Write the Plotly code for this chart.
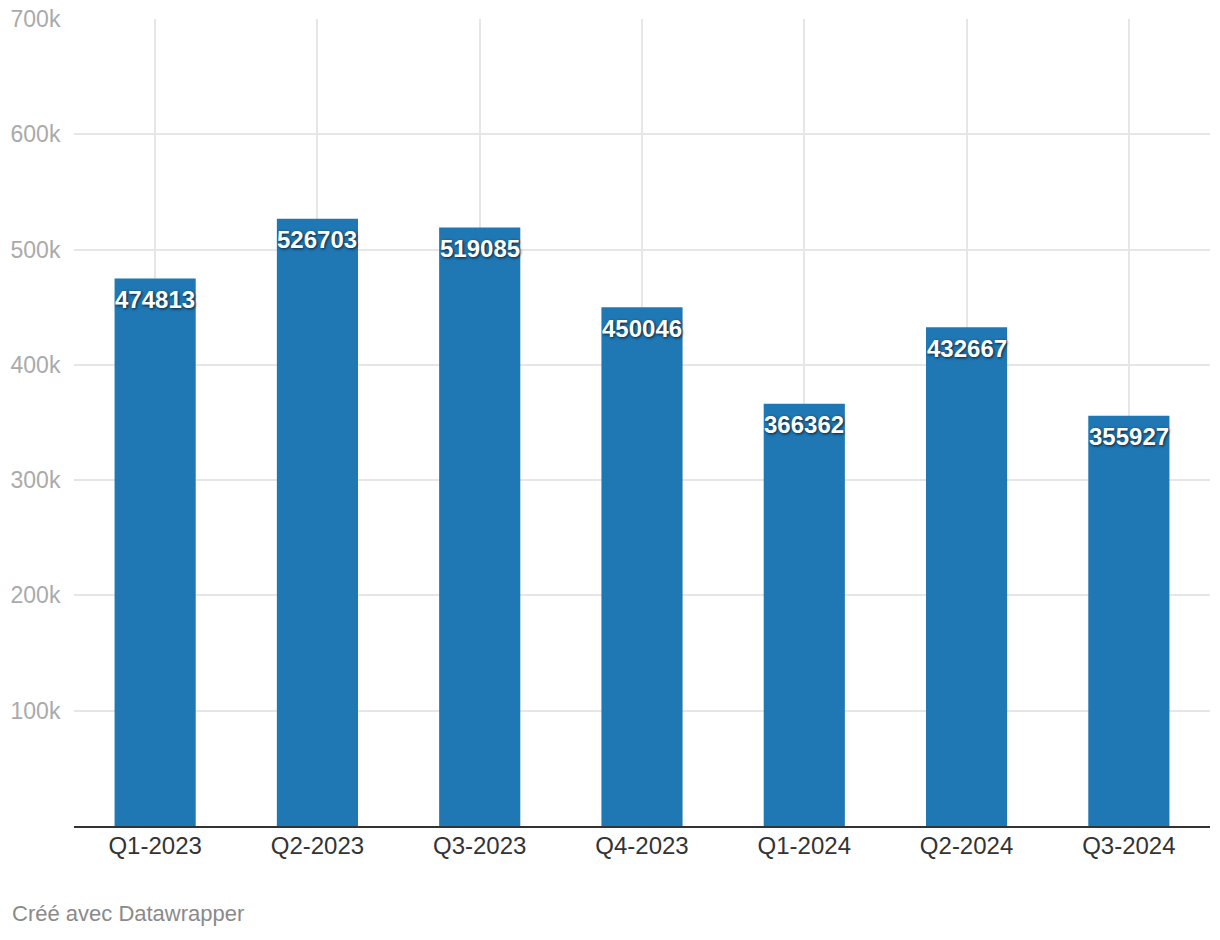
import plotly.graph_objects as go

categories = ["Q1-2023", "Q2-2023", "Q3-2023", "Q4-2023", "Q1-2024", "Q2-2024", "Q3-2024"]
values = [474813, 526703, 519085, 450046, 366362, 432667, 355927]
tick_vals = [100000, 200000, 300000, 400000, 500000, 600000, 700000]
tick_text = ["100k", "200k", "300k", "400k", "500k", "600k", "700k"]

FONT = "Liberation Sans, Arial, Helvetica, sans-serif"

fig = go.Figure()
fig.add_trace(go.Bar(
    x=categories,
    y=values,
    width=0.5,
    marker=dict(color="#1f77b4", line=dict(width=0)),
    hoverinfo="skip",
))

annotations = [dict(
    x=c, y=v, xref="x", yref="y",
    text=str(v), showarrow=False,
    xanchor="center", yanchor="middle", yshift=-21,
    font=dict(family=FONT, size=24, color="white", weight="bold",
              shadow="1px 1px 3px rgba(0,0,0,0.75)"),
) for c, v in zip(categories, values)]

annotations.append(dict(
    text="Créé avec Datawrapper",
    xref="paper", yref="paper", x=0, y=-0.109,
    xanchor="left", yanchor="middle", xshift=-64,
    showarrow=False,
    font=dict(family=FONT, size=22, color="#8a8a8a"),
))

fig.update_layout(
    width=1220, height=940,
    margin=dict(l=74, r=10, t=19, b=114),
    paper_bgcolor="white",
    plot_bgcolor="white",
    showlegend=False,
    bargap=0.5,
    font=dict(family=FONT),
    xaxis=dict(
        showgrid=True, gridcolor="#e6e6e6", gridwidth=2,
        showline=True, linecolor="#333333", linewidth=2,
        ticks="", tickfont=dict(size=24, color="#333333"),
        ticklabelstandoff=-3,
        zeroline=False, automargin=False,
    ),
    yaxis=dict(
        range=[0, 700000],
        tickvals=tick_vals, ticktext=tick_text,
        showgrid=True, gridcolor="#e6e6e6", gridwidth=2,
        zeroline=False, showline=False,
        ticks="outside", ticklen=8, tickcolor="rgba(0,0,0,0)",
        tickfont=dict(size=23, color="#aaaaaa"),
        automargin=False,
    ),
    annotations=annotations,
)

fig.write_html("out.html")
